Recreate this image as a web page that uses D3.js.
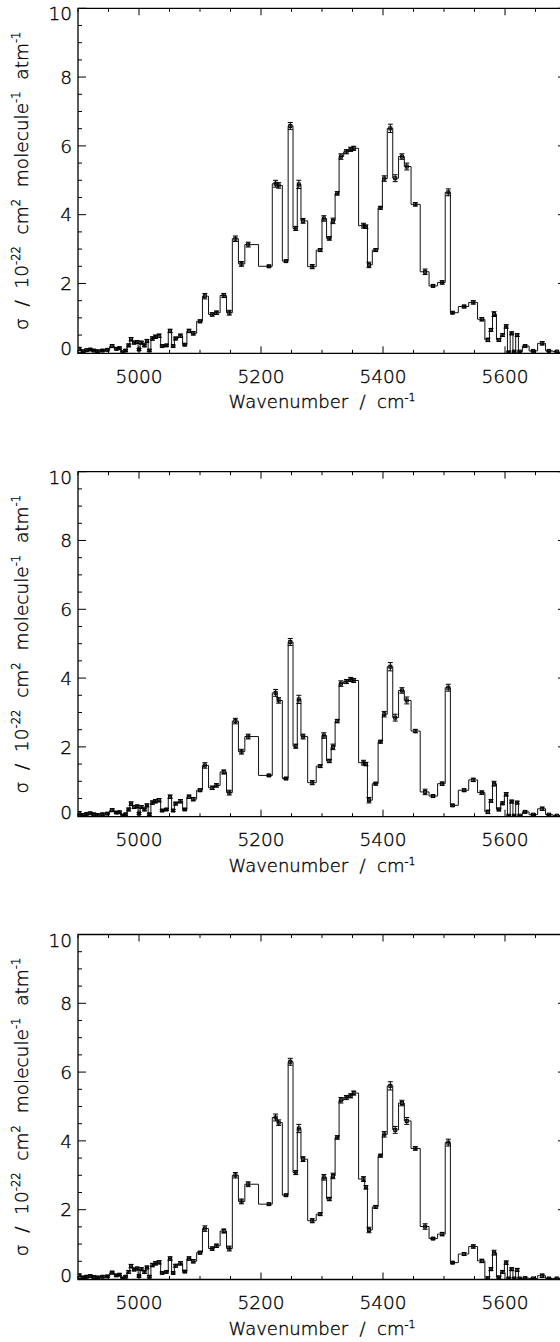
<!DOCTYPE html>
<html>
<head>
<meta charset="utf-8">
<script src="https://cdn.jsdelivr.net/npm/d3@7"></script>
<style>
  body { margin: 0; background: #fff; }
  svg { display: block; }
  text { font-family: "DejaVu Sans", "Liberation Sans", sans-serif; font-weight: 200; fill: #000; stroke: #000; stroke-width: 0.35; white-space: pre; }
</style>
</head>
<body>
<svg width="560" height="1342"></svg>
<script>
// band centres (cm-1), shared by all three panels
const wavenumber = [
  4902, 4908, 4914, 4920, 4926, 4932, 4940, 4948, 4956, 4963,
  4968, 4973, 4978, 4983, 4987, 4992, 4997, 5000, 5004, 5009,
  5013, 5017, 5022, 5027, 5033, 5038, 5045, 5051, 5056, 5060,
  5068, 5075, 5082, 5089,
  5100, 5108, 5120, 5127, 5139, 5148, 5158, 5168, 5179, 5213,
  5224, 5229, 5241, 5248, 5257, 5262, 5269, 5284, 5297, 5303,
  5312, 5318, 5325, 5331, 5340, 5347, 5352, 5368, 5372, 5377,
  5388, 5396, 5402, 5412, 5420, 5431, 5439, 5453, 5469, 5482,
  5497, 5507, 5514, 5533, 5548, 5562, 5572, 5577, 5582, 5590,
  5596, 5602, 5606, 5611, 5615, 5620, 5624, 5633, 5646, 5661,
  5672, 5685
];

const sigmaTop = [
  0.10, 0.03, 0.06, 0.08, 0.05, 0.03, 0.05, 0.07, 0.18, 0.10,
  0.12, 0.00, 0.05, 0.20, 0.38, 0.28, 0.30, 0.08, 0.28, 0.20,
  0.33, 0.05, 0.40, 0.45, 0.48, 0.18, 0.20, 0.62, 0.18, 0.40,
  0.48, 0.22, 0.62, 0.55,
  0.90, 1.63, 1.10, 1.15, 1.65, 1.15, 3.30, 2.57, 3.13, 2.50,
  4.90, 4.85, 2.65, 6.58, 3.60, 4.88, 3.82, 2.49, 2.97, 3.89,
  3.31, 3.82, 4.62, 5.69, 5.83, 5.90, 5.93, 3.68, 3.65, 2.54,
  2.97, 4.20, 5.05, 6.51, 5.06, 5.69, 5.40, 4.30, 2.34, 1.93,
  2.03, 4.65, 1.15, 1.33, 1.45, 0.96, 0.36, 0.65, 1.11, 0.36,
  0.50, 0.75, 0.00, 0.55, 0.02, 0.50, 0.02, 0.18, 0.04, 0.26,
  0.04, 0.02
];

const sigmaMid = [
  0.08, 0.02, 0.05, 0.07, 0.04, 0.02, 0.04, 0.06, 0.16, 0.09,
  0.10, 0.00, 0.04, 0.18, 0.35, 0.25, 0.27, 0.06, 0.25, 0.18,
  0.30, 0.04, 0.38, 0.42, 0.45, 0.15, 0.18, 0.55, 0.15, 0.35,
  0.42, 0.18, 0.55, 0.48,
  0.74, 1.46, 0.81, 0.88, 1.27, 0.67, 2.75, 1.86, 2.30, 1.17,
  3.57, 3.35, 1.08, 5.05, 2.02, 3.38, 2.30, 0.96, 1.44, 2.33,
  1.59, 2.00, 2.75, 3.84, 3.90, 3.96, 3.93, 1.54, 1.50, 0.45,
  0.93, 2.15, 2.95, 4.33, 2.85, 3.64, 3.35, 2.46, 0.69, 0.57,
  0.93, 3.72, 0.30, 0.74, 1.04, 0.67, 0.11, 0.43, 0.93, 0.18,
  0.36, 0.62, 0.00, 0.41, 0.00, 0.38, 0.00, 0.11, 0.03, 0.20,
  0.03, 0.00
];

const sigmaBottom = [
  0.09, 0.03, 0.05, 0.07, 0.04, 0.03, 0.05, 0.06, 0.17, 0.09,
  0.11, 0.00, 0.05, 0.19, 0.36, 0.26, 0.29, 0.07, 0.27, 0.19,
  0.32, 0.05, 0.39, 0.44, 0.47, 0.16, 0.19, 0.58, 0.16, 0.37,
  0.44, 0.20, 0.58, 0.50,
  0.75, 1.45, 0.87, 0.95, 1.38, 0.87, 3.00, 2.24, 2.74, 2.16,
  4.68, 4.53, 2.42, 6.30, 3.08, 4.36, 3.47, 1.68, 1.87, 2.94,
  2.31, 2.98, 4.10, 5.18, 5.26, 5.31, 5.39, 2.89, 2.65, 1.41,
  2.08, 3.57, 4.19, 5.60, 4.32, 5.10, 4.58, 3.78, 1.51, 1.16,
  1.29, 3.95, 0.46, 0.71, 0.93, 0.51, 0.00, 0.27, 0.75, 0.03,
  0.19, 0.46, 0.00, 0.27, 0.00, 0.25, 0.00, 0.01, 0.00, 0.08,
  0.00, 0.00
];

// 1-sigma uncertainties (same bands)
const sigmaErr = [
  0.04, 0.03, 0.03, 0.03, 0.03, 0.03, 0.03, 0.03, 0.04, 0.03,
  0.03, 0.03, 0.03, 0.04, 0.05, 0.04, 0.04, 0.03, 0.04, 0.04,
  0.04, 0.03, 0.05, 0.05, 0.05, 0.03, 0.03, 0.05, 0.03, 0.04,
  0.05, 0.03, 0.05, 0.05,
  0.04, 0.08, 0.05, 0.05, 0.06, 0.07, 0.08, 0.07, 0.07, 0.03,
  0.10, 0.08, 0.03, 0.10, 0.06, 0.12, 0.07, 0.06, 0.04, 0.08,
  0.05, 0.08, 0.05, 0.08, 0.06, 0.06, 0.06, 0.07, 0.05, 0.08,
  0.04, 0.04, 0.08, 0.12, 0.10, 0.08, 0.10, 0.05, 0.08, 0.03,
  0.05, 0.10, 0.03, 0.04, 0.05, 0.05, 0.05, 0.04, 0.07, 0.04,
  0.04, 0.05, 0.02, 0.04, 0.02, 0.04, 0.02, 0.03, 0.02, 0.05,
  0.02, 0.02
];

const panels = [sigmaTop, sigmaMid, sigmaBottom];
const xTickLabels = [5000, 5200, 5400, 5600];
const yTickLabels = [0, 2, 4, 6, 8, 10];

const svg = d3.select("svg");
const left = 78, right = 566;
const panelTops = [8.3, 471.7, 934.5];
const plotH = 345;

const x = d3.scaleLinear().domain([4900, 5700]).range([left, right]);

// put text pieces with superscripts into a <text>
function richText(sel, parts, supSize, lift) {
  let up = false;
  parts.forEach(([s, sup]) => {
    const t = sel.append("tspan").text(s);
    if (sup && !up) { t.attr("dy", -lift).attr("font-size", supSize); up = true; }
    else if (sup) { t.attr("font-size", supSize); }
    else if (up) { t.attr("dy", lift); up = false; }
  });
}

panels.forEach((values, p) => {
  const top = panelTops[p];
  const bottom = top + plotH;
  const y = d3.scaleLinear().domain([-0.03, 10]).range([bottom, top]);
  const g = svg.append("g");

  g.append("clipPath").attr("id", "clip" + p)
    .append("rect").attr("x", left).attr("y", top).attr("width", right - left).attr("height", plotH);

  // histogram-style steps: each level spans the midpoints to its neighbours
  const n = wavenumber.length;
  const steps = [];
  values.forEach((v, i) => {
    const a = i === 0 ? wavenumber[0] : (wavenumber[i - 1] + wavenumber[i]) / 2;
    const b = i === n - 1 ? wavenumber[n - 1] : (wavenumber[i] + wavenumber[i + 1]) / 2;
    steps.push([a, v], [b, v]);
  });
  const line = d3.line().x(d => x(d[0])).y(d => y(d[1]));

  const plot = g.append("g").attr("clip-path", `url(#clip${p})`);
  plot.append("path")
    .attr("d", line(steps))
    .attr("fill", "none")
    .attr("stroke", "#111")
    .attr("stroke-width", 1);

  // error bars + small square markers
  const pts = values.map((v, i) => ({ w: wavenumber[i], v: v, e: sigmaErr[i] }));
  const eb = plot.selectAll("g.eb").data(pts).enter().append("g").attr("class", "eb")
    .attr("stroke", "#000").attr("stroke-width", 1).attr("fill", "none");
  eb.append("path").attr("d", d => {
    const cx = x(d.w), y0 = y(d.v - d.e), y1 = y(d.v + d.e);
    return `M${cx},${y0}V${y1}M${cx - 2.5},${y0}H${cx + 2.5}M${cx - 2.5},${y1}H${cx + 2.5}`;
  });
  eb.append("rect")
    .attr("x", d => x(d.w) - 1.5).attr("y", d => y(d.v) - 1.5)
    .attr("width", 3).attr("height", 3);

  // frame
  g.append("path")
    .attr("d", `M${left},${top}H${right}V${bottom}H${left}Z`)
    .attr("fill", "none").attr("stroke", "#000").attr("stroke-width", 1.3);

  // ticks, all pointing inwards
  const ticks = g.append("g").attr("stroke", "#000").attr("stroke-width", 1);
  d3.range(4900, 5701, 50).forEach(w => {
    const len = w % 200 === 0 ? 7 : 3.5;
    ticks.append("line").attr("x1", x(w)).attr("x2", x(w)).attr("y1", bottom).attr("y2", bottom - len);
    ticks.append("line").attr("x1", x(w)).attr("x2", x(w)).attr("y1", top).attr("y2", top + len);
  });
  d3.range(0, 10.01, 0.5).forEach(v => {
    const len = v % 2 === 0 ? 8 : 4;
    ticks.append("line").attr("x1", left).attr("x2", left + len).attr("y1", y(v)).attr("y2", y(v));
    ticks.append("line").attr("x1", right).attr("x2", right - len).attr("y1", y(v)).attr("y2", y(v));
  });

  // tick labels
  g.selectAll("text.xt").data(xTickLabels).enter().append("text")
    .attr("x", d => x(d)).attr("y", bottom + 29.5)
    .attr("text-anchor", "middle").attr("font-size", 18.5)
    .text(d => d);
  g.selectAll("text.yt").data(yTickLabels).enter().append("text")
    .attr("x", 72).attr("y", d => y(d) + (d === 0 ? -3.5 : d === 10 ? 5.5 : 0))
    .attr("dy", "0.36em")
    .attr("text-anchor", "end").attr("font-size", 18.5)
    .text(d => d);

  // axis titles
  const xt = g.append("text")
    .attr("x", (left + right) / 2).attr("y", bottom + 55)
    .attr("text-anchor", "middle").attr("font-size", 18);
  richText(xt, [["Wavenumber  /  cm"], ["-1", true]], 11, 7);

  const yt = g.append("text")
    .attr("transform", `translate(28,${top + plotH / 2}) rotate(-90)`)
    .attr("text-anchor", "middle").attr("font-size", 18.5);
  richText(yt, [["σ  /  10"], ["-22", true], ["  cm"], ["2", true], ["  molecule"], ["-1", true], ["  atm"], ["-1", true]], 11.5, 8);
});
</script>
</body>
</html>
